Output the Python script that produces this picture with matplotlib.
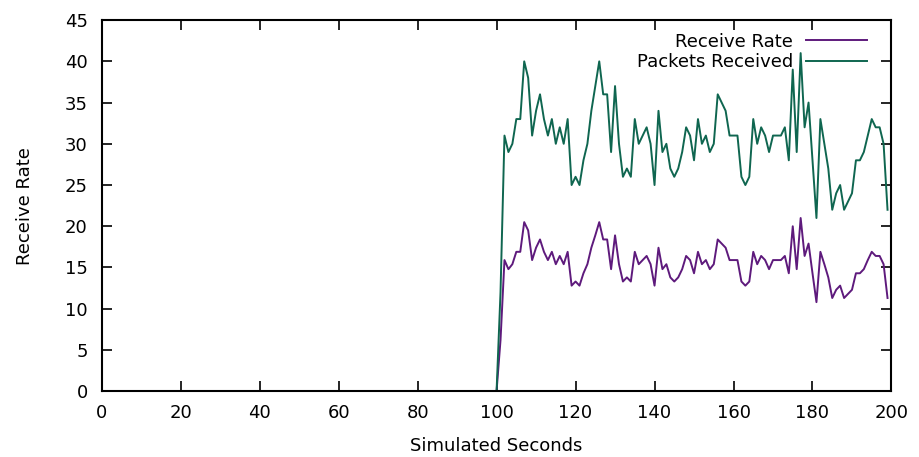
import numpy as np
import matplotlib
matplotlib.use("Agg")
import matplotlib.pyplot as plt

# simulated seconds 100..199
seconds = np.arange(100, 200)

packets_received = [
    0, 12, 31, 29, 30, 33, 33, 40, 38, 31,
    34, 36, 33, 31, 33, 30, 32, 30, 33, 25,
    26, 25, 28, 30, 34, 37, 40, 36, 36, 29,
    37, 30, 26, 27, 26, 33, 30, 31, 32, 30,
    25, 34, 29, 30, 27, 26, 27, 29, 32, 31,
    28, 33, 30, 31, 29, 30, 36, 35, 34, 31,
    31, 31, 26, 25, 26, 33, 30, 32, 31, 29,
    31, 31, 31, 32, 28, 39, 29, 41, 32, 35,
    28, 21, 33, 30, 27, 22, 24, 25, 22, 23,
    24, 28, 28, 29, 31, 33, 32, 32, 30, 22,
]

receive_rate = [
    0, 6.2, 15.9, 14.8, 15.4, 16.9, 16.9, 20.5, 19.5, 15.9,
    17.4, 18.4, 16.9, 15.9, 16.9, 15.4, 16.4, 15.4, 16.9, 12.8,
    13.3, 12.8, 14.3, 15.4, 17.4, 18.9, 20.5, 18.4, 18.4, 14.8,
    18.9, 15.4, 13.3, 13.8, 13.3, 16.9, 15.4, 15.9, 16.4, 15.4,
    12.8, 17.4, 14.8, 15.4, 13.8, 13.3, 13.8, 14.8, 16.4, 15.9,
    14.3, 16.9, 15.4, 15.9, 14.8, 15.4, 18.4, 17.9, 17.4, 15.9,
    15.9, 15.9, 13.3, 12.8, 13.3, 16.9, 15.4, 16.4, 15.9, 14.8,
    15.9, 15.9, 15.9, 16.4, 14.3, 20.0, 14.8, 21.0, 16.4, 17.9,
    14.3, 10.8, 16.9, 15.4, 13.8, 11.3, 12.3, 12.8, 11.3, 11.8,
    12.3, 14.3, 14.3, 14.8, 15.9, 16.9, 16.4, 16.4, 15.4, 11.3,
]

x_ticks = np.arange(0, 201, 20)
y_ticks = np.arange(0, 46, 5)

plt.rcParams['font.family'] = ['DejaVu Sans']
fig = plt.figure(figsize=(9.2, 4.57), dpi=100)
ax = fig.add_axes([0.1105, 0.144, 0.8585, 0.812])

ax.plot(seconds, receive_rate, color='#5e1a7c', lw=1.4, label='Receive Rate')
ax.plot(seconds, packets_received, color='#0f6650', lw=1.4, label='Packets Received')

ax.set_xlim(0, 200)
ax.set_ylim(0, 45)
ax.set_xticks(x_ticks)
ax.set_yticks(y_ticks)
ax.tick_params(axis='both', direction='in', length=7, width=1.2, top=True, right=True,
               labelsize=13, colors='black')
ax.tick_params(axis='y', pad=10)
ax.tick_params(axis='x', pad=9)
for s in ax.spines.values():
    s.set_linewidth(1.5)

ax.set_xlabel('Simulated Seconds', fontsize=13, labelpad=11)
ax.set_ylabel('Receive Rate', fontsize=13, labelpad=22)

ax.legend(loc='upper right', frameon=False, markerfirst=False, fontsize=13,
          handlelength=3.4, handletextpad=0.7, labelspacing=0.15,
          bbox_to_anchor=(0.985, 1.0), borderaxespad=0.3)

fig.savefig('out.png', dpi=100)
